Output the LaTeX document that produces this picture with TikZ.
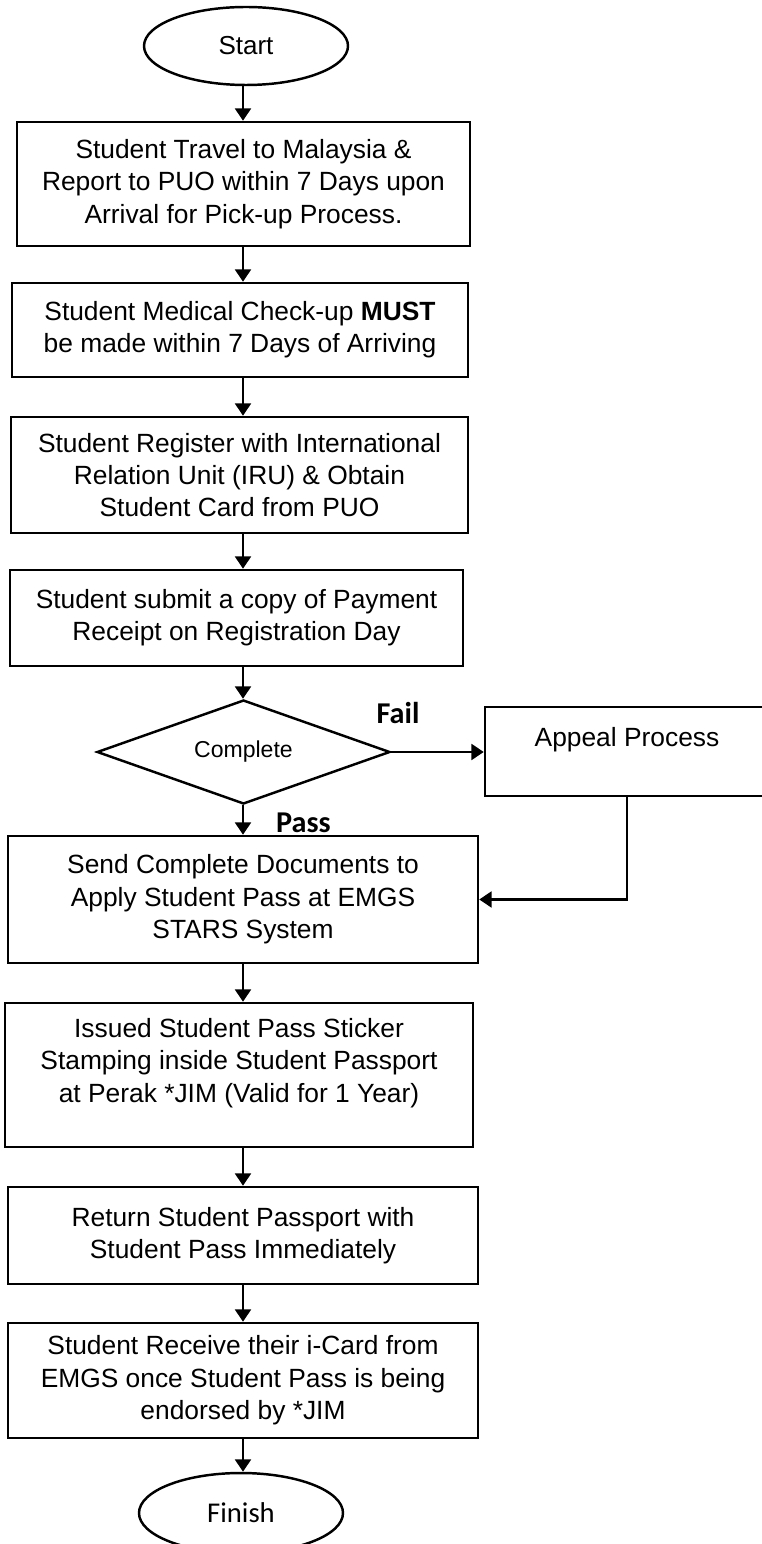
\documentclass[tikz,border=0pt]{standalone}
\usepackage{fontspec}
\setmainfont{Liberation Sans}
\newfontfamily\calibri{Carlito}
\usetikzlibrary{shapes.geometric,arrows.meta}

\begin{document}
\begin{tikzpicture}[scale=0.2]
\tikzstyle{every node}+=[inner sep=0pt]
\tikzstyle{txt}=[align=center, font=\fontsize{15}{18.4}\selectfont]
\tikzstyle{box}=[txt, draw, line width=1.4pt]
\tikzstyle{term}=[draw, ellipse, line width=1.4pt]
\tikzstyle{flow}=[line width=1.3pt, -{Triangle[length=7pt,width=9pt]}]
\tikzstyle{verdict}=[font=\calibri\bfseries\fontsize{17.2}{20}\selectfont]

\useasboundingbox (0,0) rectangle (76.1,-154.4);
\coordinate (axis) at (24.3,0);

\node[term, minimum width=4.08cm, minimum height=1.56cm, font=\fontsize{14.8}{17}\selectfont] (start) at (24.6,-4.6) {Start};
\node[box, minimum width=9.06cm, minimum height=2.48cm] (b1) at (24.35,-18.4) {Student Travel to Malaysia \&\\Report to PUO within 7 Days upon\\Arrival for Pick-up Process.};
\node[box, minimum width=9.12cm, minimum height=1.88cm] (b2) at (24.0,-33.0) {Student Medical Check-up \textbf{MUST}\\be made within 7 Days of Arriving};
\node[box, minimum width=9.14cm, minimum height=2.32cm] (b3) at (23.95,-47.5) {Student Register with International\\Relation Unit (IRU) \& Obtain\\Student Card from PUO};
\node[box, minimum width=9.06cm, minimum height=1.92cm] (b4) at (23.65,-61.8) {Student submit a copy of Payment\\Receipt on Registration Day};
\node[draw, diamond, aspect=2.8, line width=1.4pt, minimum width=5.86cm, minimum height=2.08cm, font=\fontsize{13.1}{16}\selectfont] (dec) at (24.35,-75.2) {Complete};

\node[box, minimum width=5.68cm, minimum height=1.78cm] (appeal) at (62.7,-75.15) {};
\node[txt] (appealtext) at (62.7,-74.0) {Appeal Process};

\node[box, minimum width=9.40cm, minimum height=2.54cm] (b5) at (24.3,-89.95) {Send Complete Documents to\\Apply Student Pass at EMGS\\STARS System};
\node[box, minimum width=9.36cm, minimum height=2.88cm] (b6) at (23.9,-107.5) {};
\node[txt] (b6text) at (23.9,-106.3) {Issued Student Pass Sticker\\Stamping inside Student Passport\\at Perak *JIM (Valid for 1 Year)};
\node[box, minimum width=9.40cm, minimum height=1.94cm] (b7) at (24.3,-123.55) {Return Student Passport with\\Student Pass Immediately};
\node[box, minimum width=9.40cm, minimum height=2.30cm] (b8) at (24.3,-138.05) {Student Receive their i-Card from\\EMGS once Student Pass is being\\endorsed by *JIM};
\node[term, minimum width=4.08cm, minimum height=1.60cm, font=\calibri\fontsize{16.3}{19}\selectfont] (finish) at (24.1,-151.3) {Finish};

\node[verdict] (fail) at (39.8,-71.3) {Fail};
\node[verdict] (pass) at (30.35,-82.3) {Pass};

\draw [flow] (axis |- start.south) -- (axis |- b1.north);
\draw [flow] (axis |- b1.south) -- (axis |- b2.north);
\draw [flow] (axis |- b2.south) -- (axis |- b3.north);
\draw [flow] (axis |- b3.south) -- (axis |- b4.north);
\draw [flow] (axis |- b4.south) -- (axis |- dec.north);
\draw [flow] (axis |- dec.south) -- (axis |- b5.north);
\draw [flow] (dec.east) -- (dec.east -| appeal.west);
\draw [flow] (appeal.south) |- (b5.east);
\draw [flow] (axis |- b5.south) -- (axis |- b6.north);
\draw [flow] (axis |- b6.south) -- (axis |- b7.north);
\draw [flow] (axis |- b7.south) -- (axis |- b8.north);
\draw [flow] (axis |- b8.south) -- (axis |- finish.north);
\end{tikzpicture}
\end{document}
